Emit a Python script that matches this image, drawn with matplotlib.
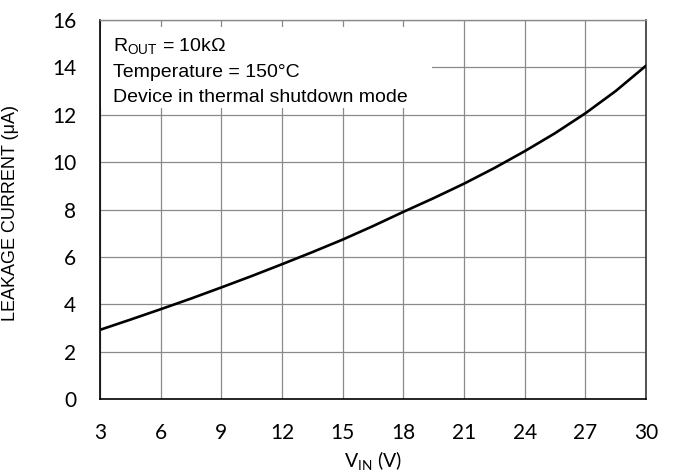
import matplotlib
matplotlib.use("Agg")
import matplotlib.pyplot as plt
from matplotlib.patches import Rectangle

# Data
vin = [3, 4.5, 6, 7.5, 9, 10.5, 12, 13.5, 15, 16.5, 18, 19.5, 21, 22.5, 24, 25.5, 27, 28.5, 30]
leakage = [2.92, 3.35, 3.79, 4.24, 4.71, 5.19, 5.69, 6.20, 6.73, 7.30, 7.90, 8.48, 9.09, 9.75,
           10.46, 11.22, 12.06, 13.00, 14.07]
xticks = [3, 6, 9, 12, 15, 18, 21, 24, 27, 30]
yticks = [0, 2, 4, 6, 8, 10, 12, 14, 16]
notes = ["R$_{\\mathregular{OUT}}$ = 10k\u03a9", "Temperature = 150\u00b0C", "Device in thermal shutdown mode"]

plt.rcParams['mathtext.fontset'] = 'custom'
plt.rcParams['mathtext.rm'] = 'Liberation Sans'

fig = plt.figure(figsize=(6.74, 4.74), dpi=100)
ax = fig.add_axes([100/674, 1-399/474, 546/674, 379/474])

ax.plot(vin, leakage, color='black', lw=1.9, zorder=5, solid_capstyle='round')
ax.set_xlim(3, 30)
ax.set_ylim(0, 16)
ax.set_xticks(xticks)
ax.set_yticks(yticks)
ax.grid(True, color='#8a8a8a', lw=0.9, zorder=1)
ax.set_axisbelow(True)
ax.tick_params(length=0, pad=17)
for lab in ax.get_xticklabels() + ax.get_yticklabels():
    lab.set_fontfamily('Lato')
    lab.set_fontsize(15)
for side in ['left', 'bottom']:
    ax.spines[side].set_color('black')
    ax.spines[side].set_linewidth(1.2)
ax.spines['right'].set_color('#333333')
ax.spines['right'].set_linewidth(1.2)
ax.spines['top'].set_color('#8a8a8a')
ax.spines['top'].set_linewidth(1.0)

fig.text(11/674, 1-213/474, 'LEAKAGE CURRENT (\u03bcA)', family='Liberation Sans', fontsize=13,
         rotation=90, ha='center', va='center')
fig.text(373/674, 1-461/474, 'V$_{\\mathregular{IN}}$ (V)', family='Lato', fontsize=14,
         ha='center', va='center')

ax.add_patch(Rectangle((0.002, 0.768), 0.606, 0.2135, transform=ax.transAxes,
                       facecolor='white', edgecolor='none', zorder=2))
for i, t in enumerate(notes):
    ax.text(0.023, 0.9156 - i*0.066, t, transform=ax.transAxes, family='Liberation Sans',
            fontsize=14, va='baseline', ha='left', zorder=3)

fig.savefig('out.png', dpi=100)
